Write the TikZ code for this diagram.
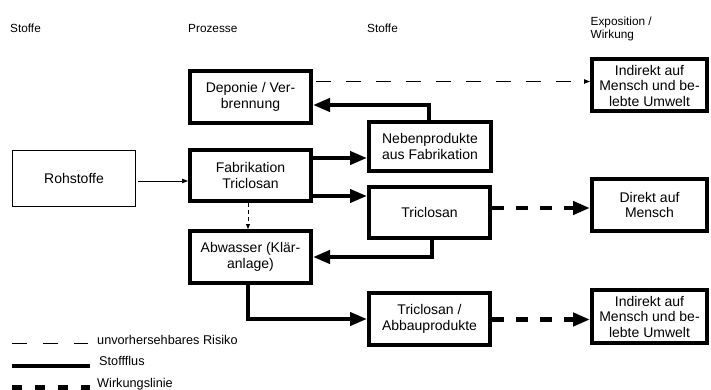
\documentclass[tikz,border=0pt]{standalone}
\usepackage{fontspec}
\setmainfont{Liberation Sans}
\usetikzlibrary{arrows.meta,calc}
\tikzset{
  boxtxt/.style={font=\fontsize{14}{15.5}\selectfont, align=center, inner sep=0pt},
  thinbox/.style={boxtxt, draw, line width=1pt},
  thickbox/.style={boxtxt, draw, line width=4pt},
  hdr/.style={font=\fontsize{11.8}{12.5}\selectfont, align=left, inner sep=0pt},
  legtxt/.style={font=\fontsize{12.7}{14}\selectfont, inner sep=0pt, anchor=base west},
  flow/.style={line width=4pt, -{Triangle[length=17pt,width=13pt]}},
  effect/.style={line width=4.5pt, dash pattern=on 12pt off 12pt, -{Triangle[length=17pt,width=13pt]}},
  risk/.style={line width=0.9pt, dash pattern=on 15pt off 15pt, -{Triangle[length=6pt,width=4.5pt]}},
  thinarrow/.style={line width=0.9pt, -{Triangle[length=6pt,width=4.5pt]}},
  dotarrow/.style={line width=0.9pt, dash pattern=on 4pt off 3pt, -{Triangle[length=5pt,width=4pt]}},
}
\begin{document}
\begin{tikzpicture}[x=1pt,y=-1pt]
\useasboundingbox (0,0) rectangle (711,390);
% headers
\node[hdr, anchor=base west] (h1) at (10,33) {Stoffe};
\node[hdr, anchor=base west] (h2) at (188,33) {Prozesse};
\node[hdr, anchor=base west] (h3) at (367,33) {Stoffe};
\node[hdr, anchor=base west] (h4) at (590.5,26) {Exposition /};
\node[hdr, anchor=base west] (h5) at (590.5,38.5) {Wirkung};
% boxes
\node[thinbox, minimum width=123pt, minimum height=56pt] (roh) at (74,178.5) {Rohstoffe};
\node[thickbox, minimum width=121pt, minimum height=51pt] (fab) at (250.5,175.5) {Fabrikation\\Triclosan};
\node[thickbox, minimum width=121pt, minimum height=52pt] (dep) at (250.5,97) {Deponie / Ver-\\brennung};
\node[thickbox, minimum width=121pt, minimum height=52pt] (abw) at (250.5,257) {Abwasser (Klär-\\anlage)};
\node[thickbox, minimum width=122pt, minimum height=49pt] (neb) at (430,146.5) {Nebenprodukte\\aus Fabrikation};
\node[thickbox, minimum width=121pt, minimum height=51pt] (tri) at (429.5,212.5) {Triclosan};
\node[thickbox, minimum width=121pt, minimum height=52pt] (tab) at (429.5,319) {Triclosan /\\Abbauprodukte};
\node[thickbox, minimum width=115pt, minimum height=52pt] (ind1) at (649.5,85.5) {Indirekt auf\\Mensch und be-\\lebte Umwelt};
\node[thickbox, minimum width=115pt, minimum height=52pt] (dir) at (649.5,205) {Direkt auf\\Mensch};
\node[thickbox, minimum width=115pt, minimum height=53pt] (ind2) at (649.5,316.5) {Indirekt auf\\Mensch und be-\\lebte Umwelt};
% connectors
\coordinate (r1) at ([xshift=2pt,yshift=-2.5pt]roh.east);
\draw[thinarrow] (r1) -- (r1 -| fab.west);
\coordinate (f1) at ([yshift=17.5pt]fab.east);
\draw[flow] (f1) -- (f1 -| neb.west);
\coordinate (f2) at ([yshift=-20.5pt]fab.east);
\draw[flow] (f2) -- (f2 -| tri.west);
\coordinate (f3) at ([xshift=-2.5pt]fab.south);
\draw[dotarrow] (f3) -- (f3 |- abw.north);
\coordinate (d1) at ([yshift=-8pt]dep.east);
\draw[flow] ([xshift=-1pt]neb.north) |- (d1);
\draw[flow] ([xshift=2.5pt]tri.south) |- (abw.east);
\coordinate (a1) at ([xshift=-2.5pt]abw.south);
\draw[flow] (a1) |- (tab.west);
\coordinate (d2) at ([xshift=3pt,yshift=15.5pt]dep.east);
\draw[risk] (d2) -- (d2 -| ind1.west);
\coordinate (t1) at ([yshift=4.5pt]tri.east);
\draw[effect] (t1) -- (t1 -| dir.west);
\coordinate (t2) at ([yshift=-0.5pt]tab.east);
\draw[effect] (t2) -- (t2 -| ind2.west);
% legend
\coordinate (l1a) at (12,343); \coordinate (l1b) at (88,343);
\draw[line width=0.9pt, dash pattern=on 15pt off 16pt] (l1a) -- (l1b);
\node[legtxt] (lt1) at (97,344) {unvorhersehbares Risiko};
\coordinate (l2a) at (12,365.5); \coordinate (l2b) at (90,365.5);
\draw[line width=4pt] (l2a) -- (l2b);
\node[legtxt] (lt2) at (99,365) {Stoffflus};
\coordinate (l3a) at (12,387.5); \coordinate (l3b) at (90,387.5);
\draw[line width=5pt, dash pattern=on 10pt off 13pt] (l3a) -- (l3b);
\node[legtxt] (lt3) at (97,387) {Wirkungslinie};
\end{tikzpicture}
\end{document}
